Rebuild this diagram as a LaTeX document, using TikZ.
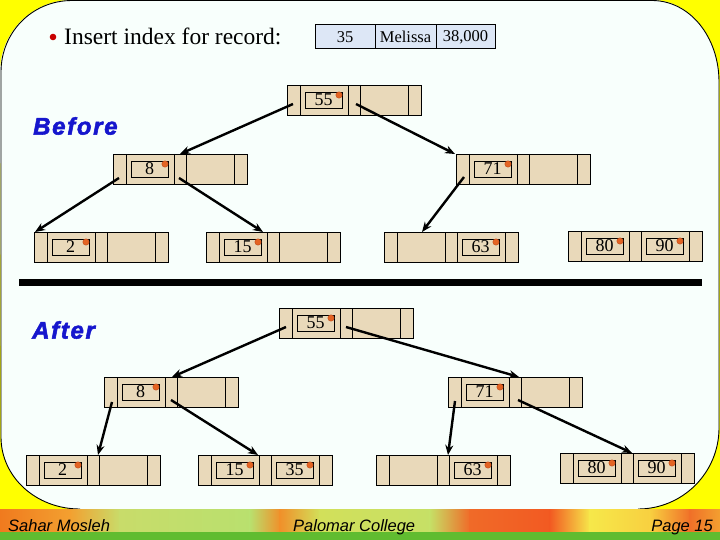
\documentclass[tikz,border=0pt]{standalone}
\usepackage{fontspec}
\setmainfont{Liberation Serif}
\newfontfamily\sansf{Liberation Sans}
\newfontfamily\sansbi[LetterSpace=7,FakeBold=2.2]{Liberation Sans Bold Italic}
\usetikzlibrary{calc,arrows.meta}
\definecolor{tanc}{RGB}{233,217,186}
\definecolor{recblue}{RGB}{221,231,246}
\definecolor{dotorange}{RGB}{228,100,36}
\definecolor{dotdark}{RGB}{190,70,20}
\definecolor{bgwhite}{RGB}{248,255,252}
\definecolor{yel}{RGB}{255,255,0}
\definecolor{titleblue}{RGB}{22,22,205}
\definecolor{bulletred}{RGB}{200,0,0}
\definecolor{fgreen}{RGB}{96,188,48}
\definecolor{f1}{RGB}{240,122,30}
\definecolor{f2}{RGB}{243,160,48}
\definecolor{f3}{RGB}{200,220,106}
\definecolor{f4}{RGB}{185,224,110}
\definecolor{f5}{RGB}{240,144,42}
\definecolor{f6}{RGB}{210,224,90}
\definecolor{f7}{RGB}{198,224,102}
\definecolor{f8}{RGB}{240,106,40}
\definecolor{f9}{RGB}{242,90,34}
\definecolor{f10}{RGB}{246,232,74}
\definecolor{f11}{RGB}{248,208,64}
\definecolor{f12}{RGB}{240,112,40}
\newcommand\mknode[3]{%
  \node[tnode,anchor=north west] (#1) at (#2,#3) {};
  \foreach \dd in {13,61,73,121}
    \draw[cellline] ($(#1.north west)+(\dd,0)$) -- ($(#1.south west)+(\dd,0)$);
}
\newcommand\mkkey[3]{%
  \node[keybox,anchor=north west] (#1-k#2) at ($(#1.north west)+(#2,7)$) {#3};
  \filldraw[dotc] ($(#1-k#2.north east)+(-3,3)$) circle (3.2pt);
}
\begin{document}
\begin{tikzpicture}[x=1pt,y=-1pt,
  tnode/.style={draw=black,line width=0.95pt,fill=tanc,minimum width=134pt,minimum height=30pt,inner sep=0pt,outer sep=0pt},
  cellline/.style={line width=0.95pt},
  keybox/.style={draw=black,line width=0.9pt,minimum width=37pt,minimum height=16pt,inner sep=0pt,outer sep=0pt,font=\fontsize{18}{18}\selectfont},
  dotc/.style={fill=dotorange,draw=dotdark,line width=0.4pt},
  arr/.style={line width=2.4pt,-{Stealth[length=10pt,width=8pt]}},
  recc/.style={draw=black,line width=1pt,fill=recblue,minimum height=24pt,inner sep=0pt,outer sep=0pt,font=\fontsize{16.5}{16.5}\selectfont,anchor=north west},
  label/.style={font=\sansbi\fontsize{24}{24}\selectfont,text=titleblue,inner sep=0pt},
  foot/.style={font=\sansf\itshape\fontsize{16.5}{16.5}\selectfont,inner sep=0pt}
]
\useasboundingbox (0,0) rectangle (720,540);
% background
\fill[yel] (0,0) rectangle (720,510);
\fill[bgwhite] (0,72) .. controls (0,32.2) and (32.2,0) .. (72,0) -- (652,0)
  .. controls (689.6,0) and (719,36.7) .. (719,82) -- (719,428)
  .. controls (719,472.7) and (682.7,509) .. (638,509) -- (80,509)
  .. controls (36,509) and (1,477) .. (1,437) -- cycle;
\draw[line width=0.9pt] (80,509) .. controls (36,509) and (1,477) .. (1,437) -- (1,72)
  .. controls (1,32.2) and (32.2,0.5) .. (72,0.5) -- (652,0.5)
  .. controls (689.6,0.5) and (719,36.7) .. (719,82) -- (719,428)
  .. controls (719,472.7) and (682.7,509) .. (638,509);
% footer
\foreach \xa/\xb/\ca/\cb in {0/70/f1/f2,70/120/f2/f3,120/250/f3/f4,250/280/f4/f5,280/320/f5/f6,320/430/f6/f7,430/470/f7/f8,470/550/f8/f9,550/590/f9/f10,590/650/f10/f11,650/690/f11/f12,690/720/f12/f2}
  \shade[left color=\ca,right color=\cb] (\xa-0.3,509) rectangle (\xb+0.3,532);
\fill[fgreen] (0,532) rectangle (720,540);
\node[foot,anchor=base west] (author) at (8,531) {Sahar Mosleh};
\node[foot,anchor=base west] (college) at (293,531) {Palomar College};
\node[foot,anchor=base east] (page) at (713,531) {Page 15};
% title
\fill[bulletred] (53,37) circle (3.3pt);
\node[anchor=base west,inner sep=0pt,font=\fontsize{23.5}{23.5}\selectfont] (title) at (64,45) {Insert index for record:};
\node[recc,minimum width=60pt] (rec1) at (315,25) {35};
\node[recc,minimum width=61pt] (rec2) at (375,25) {Melissa};
\node[recc,minimum width=59pt] (rec3) at (436,25) {38,000};
% labels
\node[label,anchor=west] (before) at (33,126) {Before};
\node[label,anchor=west] (after) at (32,330) {After};
% divider bar
\fill[black] (19,279) rectangle (702,286);
% Before tree
\mknode{B55}{287}{85}  \mkkey{B55}{18}{55}
\mknode{B8}{113}{154}  \mkkey{B8}{18}{8}
\mknode{B71}{456}{154} \mkkey{B71}{18}{71}
\mknode{B2}{34}{232}   \mkkey{B2}{18}{2}
\mknode{B15}{206}{232} \mkkey{B15}{18}{15}
\mknode{B63}{384}{232} \mkkey{B63}{78}{63}
\mknode{B80}{568}{231} \mkkey{B80}{18}{80} \mkkey{B80}{78}{90}
\draw[arr] ($(B55.north west)+(6,19)$) -- ($(B8.north west)+(67,0)$);
\draw[arr] ($(B55.north west)+(69,19)$) -- ($(B71.north west)+(-1,0)$);
\draw[arr] ($(B8.north west)+(6,24)$) -- ($(B2.north west)+(1,0)$);
\draw[arr] ($(B8.north west)+(66,24)$) -- ($(B15.north west)+(57,0)$);
\draw[arr] ($(B71.north west)+(8,23)$) -- ($(B63.north west)+(38,0)$);
% After tree
\mknode{A55}{279}{308} \mkkey{A55}{18}{55}
\mknode{A8}{104}{377}  \mkkey{A8}{18}{8}
\mknode{A71}{448}{377} \mkkey{A71}{18}{71}
\mknode{A2}{26}{455}   \mkkey{A2}{18}{2}
\mknode{A15}{198}{455} \mkkey{A15}{18}{15} \mkkey{A15}{78}{35}
\mknode{A63}{376}{455} \mkkey{A63}{78}{63}
\mknode{A80}{560}{453} \mkkey{A80}{18}{80} \mkkey{A80}{78}{90}
\draw[arr] ($(A55.north west)+(7,19)$) -- ($(A8.north west)+(68,0)$);
\draw[arr] ($(A55.north west)+(67,19)$) -- ($(A71.north west)+(71,0)$);
\draw[arr] ($(A8.north west)+(8,25)$) -- ($(A2.north west)+(72,0)$);
\draw[arr] ($(A8.north west)+(67,23)$) -- ($(A15.north west)+(60,0)$);
\draw[arr] ($(A71.north west)+(7,24)$) -- ($(A63.north west)+(72,0)$);
\draw[arr] ($(A71.north west)+(70,23)$) -- ($(A80.north west)+(72,0)$);
\end{tikzpicture}
\end{document}
